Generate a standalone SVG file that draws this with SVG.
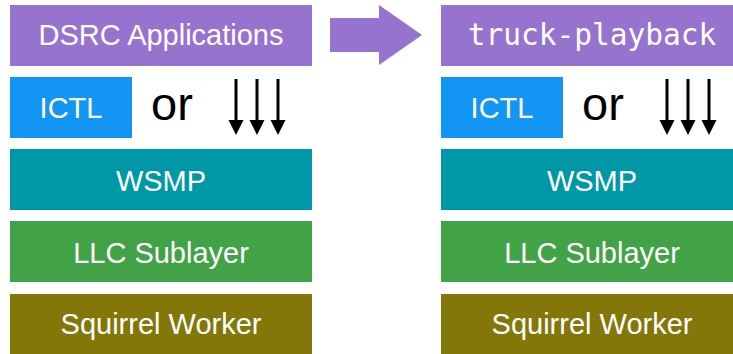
<svg xmlns="http://www.w3.org/2000/svg" width="733" height="354" viewBox="0 0 733 354">
  <style>
    .lbl { font-family: "Liberation Sans", Arial, Helvetica, sans-serif; font-size: 29px; fill: #ffffff; text-anchor: middle; }
    .mono { font-family: "DejaVu Sans Mono", "Liberation Mono", monospace; font-size: 29.5px; fill: #ffffff; text-anchor: middle; }
    .or { font-family: "Liberation Sans", Arial, Helvetica, sans-serif; font-size: 47px; fill: #000000; }
    .app { fill: #9673CF; }
    .ictl { fill: #1396F3; }
    .wsmp { fill: #0098A6; }
    .llc { fill: #42A346; }
    .sq { fill: #827708; }
    .down { stroke: #000000; stroke-width: 3; fill: none; }
  </style>
  <defs>
    <g id="downArrows">
      <line class="down" x1="0" y1="79" x2="0" y2="121"/>
      <polygon points="-7.5,120 7.5,120 0,135" fill="#000000"/>
      <line class="down" x1="21" y1="79" x2="21" y2="121"/>
      <polygon points="13.5,120 28.5,120 21,135" fill="#000000"/>
      <line class="down" x1="42" y1="79" x2="42" y2="121"/>
      <polygon points="34.5,120 49.5,120 42,135" fill="#000000"/>
    </g>
  </defs>

  <!-- left stack -->
  <g id="dsrc-apps">
    <rect class="app" x="10" y="5" width="302" height="61"/>
    <text class="lbl" x="161" y="45">DSRC Applications</text>
  </g>
  <g id="ictl-left">
    <rect class="ictl" x="10" y="77" width="122" height="61"/>
    <text class="lbl" x="71" y="118">ICTL</text>
  </g>
  <g id="or-left">
    <text class="or" x="151" y="120">or</text>
  </g>
  <g id="passthrough-left">
    <use href="#downArrows" x="236"/>
  </g>
  <g id="wsmp-left">
    <rect class="wsmp" x="10" y="149" width="302" height="61"/>
    <text class="lbl" x="161" y="191">WSMP</text>
  </g>
  <g id="llc-left">
    <rect class="llc" x="10" y="221" width="302" height="61"/>
    <text class="lbl" x="161" y="263">LLC Sublayer</text>
  </g>
  <g id="squirrel-left">
    <rect class="sq" x="10" y="294" width="302" height="62"/>
    <text class="lbl" x="161" y="334">Squirrel Worker</text>
  </g>

  <!-- transition arrow -->
  <g id="connectors">
    <polygon class="app" points="330,18 379,18 379,5 422,35 379,65 379,52 330,52"/>
  </g>

  <!-- right stack -->
  <g id="truck-playback">
    <rect class="app" x="441" y="5" width="302" height="61"/>
    <text class="mono" x="592" y="45">truck-playback</text>
  </g>
  <g id="ictl-right">
    <rect class="ictl" x="441" y="77" width="122" height="61"/>
    <text class="lbl" x="502" y="118">ICTL</text>
  </g>
  <g id="or-right">
    <text class="or" x="582" y="120">or</text>
  </g>
  <g id="passthrough-right">
    <use href="#downArrows" x="667"/>
  </g>
  <g id="wsmp-right">
    <rect class="wsmp" x="441" y="149" width="302" height="61"/>
    <text class="lbl" x="592" y="191">WSMP</text>
  </g>
  <g id="llc-right">
    <rect class="llc" x="441" y="221" width="302" height="61"/>
    <text class="lbl" x="592" y="263">LLC Sublayer</text>
  </g>
  <g id="squirrel-right">
    <rect class="sq" x="441" y="294" width="302" height="62"/>
    <text class="lbl" x="592" y="334">Squirrel Worker</text>
  </g>
</svg>
